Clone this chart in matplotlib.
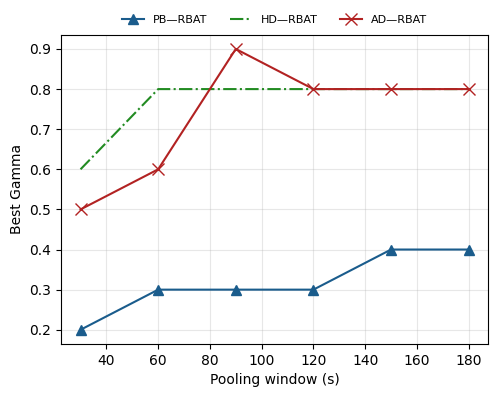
import matplotlib
matplotlib.use('Agg')
import matplotlib.pyplot as plt

windows = [30, 60, 90, 120, 150, 180]
pb_rbat = [0.2, 0.3, 0.3, 0.3, 0.4, 0.4]
hd_rbat = [0.6, 0.8, 0.8, 0.8, 0.8, 0.8]
ad_rbat = [0.5, 0.6, 0.9, 0.8, 0.8, 0.8]

fig, ax = plt.subplots(figsize=(4.97, 3.97), dpi=100)
ax.plot(windows, pb_rbat, color='#1a5c8c', marker='^', markersize=7, linewidth=1.5, label='PB—RBAT')
ax.plot(windows, hd_rbat, color='#228b22', linestyle='-.', linewidth=1.5, label='HD—RBAT')
ax.plot(windows, ad_rbat, color='#b22222', marker='x', markersize=8, linewidth=1.5, label='AD—RBAT')

ax.set_xlabel('Pooling window (s)')
ax.set_ylabel('Best Gamma')
ax.grid(True, alpha=0.3)
ax.legend(loc='lower center', bbox_to_anchor=(0.5, 1.0), ncol=3, frameon=False, fontsize=8)

fig.subplots_adjust(left=0.123, right=0.982, top=0.912, bottom=0.134)
fig.savefig('out.png', dpi=100)
